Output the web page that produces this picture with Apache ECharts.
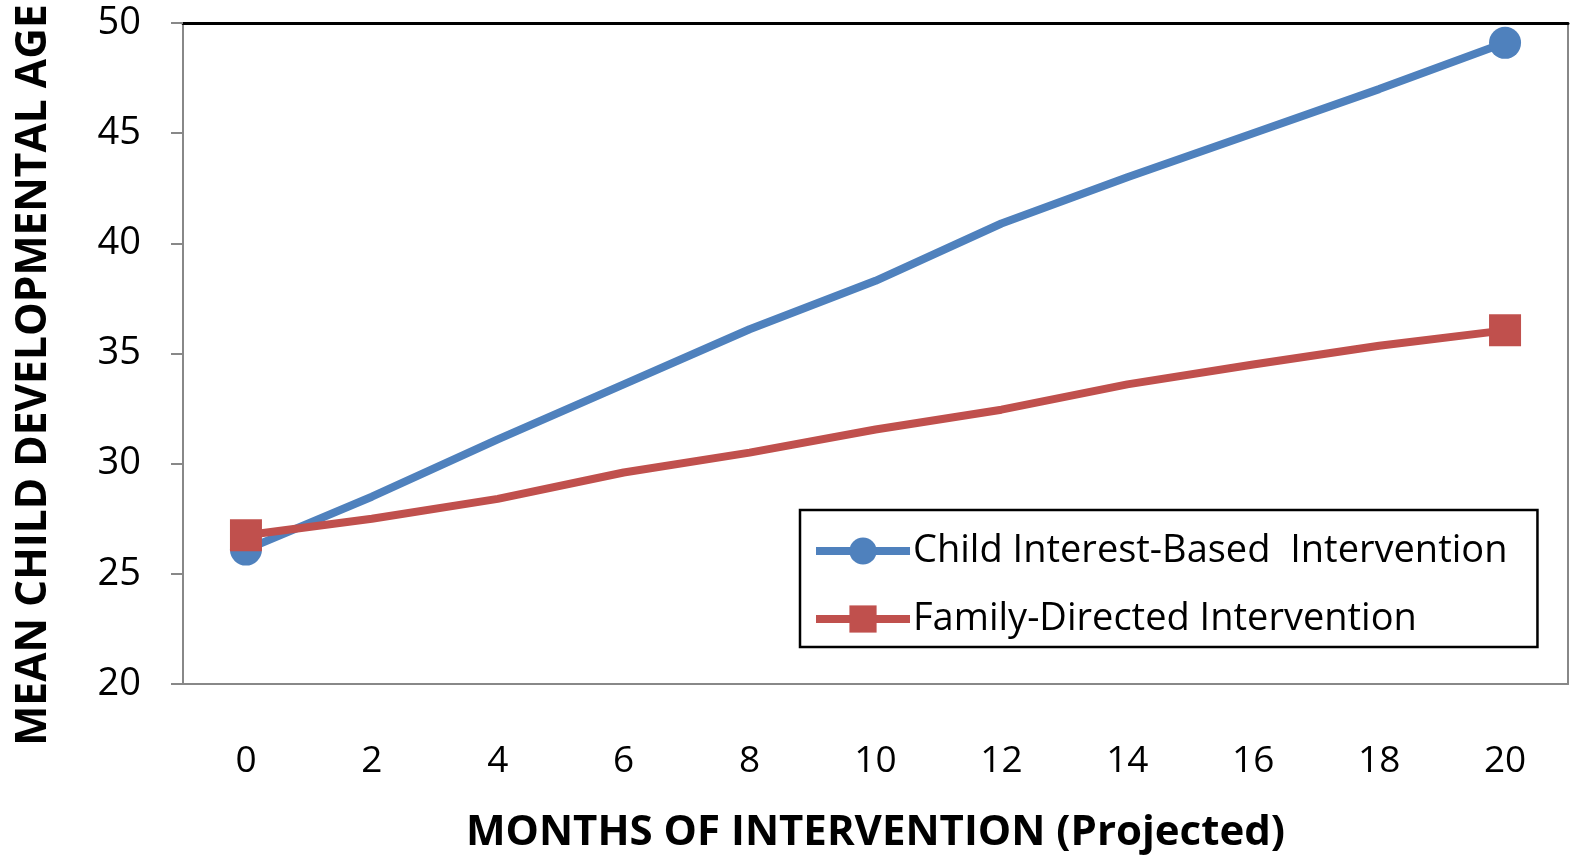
<!DOCTYPE html>
<html>
<head>
<meta charset="utf-8">
<script src="https://cdn.jsdelivr.net/npm/echarts@6/dist/echarts.min.js"></script>
<style>
html,body{margin:0;padding:0;background:#fff;}
#chart{width:1570px;height:856px;}
</style>
</head>
<body>
<div id="chart"></div>
<script>
const months = ['0','2','4','6','8','10','12','14','16','18','20'];
const childInterest = [26.1, 28.5, 31.1, 33.6, 36.1, 38.3, 40.9, 43.0, 45.0, 47.0, 49.1];
const familyDirected = [26.75, 27.5, 28.4, 29.6, 30.5, 31.55, 32.45, 33.6, 34.5, 35.35, 36.05];
const yTicks = {min: 20, max: 50, interval: 5};
const seriesNames = ['Child Interest-Based  Intervention', 'Family-Directed Intervention'];

const chart = echarts.init(document.getElementById('chart'));
const lastIdx = months.length - 1;
const endSymbol = (v, p) => (p.dataIndex === 0 || p.dataIndex === lastIdx) ? 32 : 0;
const font = '"Open Sans", sans-serif';

chart.setOption({
  animation: false,
  backgroundColor: '#fff',
  grid: {left: 183, right: 2, top: 23, bottom: 172, outerBoundsMode: 'none', containLabel: false},
  legend: {
    left: 800, top: 510,
    orient: 'vertical',
    data: seriesNames,
    borderColor: '#000', borderWidth: 2.5,
    padding: [21, 30, 8, 12],
    itemGap: 28,
    itemWidth: 94, itemHeight: 34,
    lineStyle: {width: 8},
    textStyle: {fontFamily: font, fontSize: 38, lineHeight: 40, color: '#000', padding: [0,0,0,-2]}
  },
  xAxis: [{
    type: 'category', data: months, boundaryGap: true,
    axisLine: {lineStyle: {color: '#888', width: 2}},
    axisTick: {length: 12, lineStyle: {color: '#888', width: 2}, interval: 0},
    axisLabel: {fontFamily: font, fontSize: 37, color: '#000', margin: 59, interval: 0},
    name: 'MONTHS OF INTERVENTION (Projected)',
    nameLocation: 'middle', nameGap: 128,
    nameTextStyle: {fontFamily: font, fontSize: 42, fontWeight: 'bold', color: '#000'}
  }, {
    type: 'category', data: months, position: 'top',
    axisLine: {lineStyle: {color: '#000', width: 3}},
    axisTick: {show: false}, axisLabel: {show: false}
  }],
  yAxis: [{
    type: 'value', min: yTicks.min, max: yTicks.max, interval: yTicks.interval,
    axisLine: {show: true, lineStyle: {color: '#888', width: 2}},
    axisTick: {show: true, length: 12, lineStyle: {color: '#888', width: 2}},
    splitLine: {show: false},
    axisLabel: {fontFamily: font, fontSize: 38, color: '#000', margin: 42},
    name: 'MEAN CHILD DEVELOPMENTAL AGE',
    nameLocation: 'middle', nameGap: 128, nameRotate: 90,
    nameTextStyle: {fontFamily: font, fontSize: 42.5, fontWeight: 'bold', color: '#000', padding: [0, 43, 0, 0]}
  }, {
    type: 'value', min: yTicks.min, max: yTicks.max, interval: yTicks.interval, position: 'right',
    axisLine: {show: true, lineStyle: {color: '#888', width: 2}},
    axisTick: {show: false}, axisLabel: {show: false}, splitLine: {show: false}
  }],
  series: [{
    name: seriesNames[0], type: 'line', data: childInterest,
    symbol: 'circle', symbolSize: endSymbol, showAllSymbol: true,
    lineStyle: {color: '#4F81BD', width: 8},
    itemStyle: {color: '#4F81BD'},
    z: 2
  }, {
    name: seriesNames[1], type: 'line', data: familyDirected,
    symbol: 'rect', symbolSize: endSymbol, showAllSymbol: true,
    lineStyle: {color: '#C0504D', width: 8},
    itemStyle: {color: '#C0504D'},
    z: 3
  }]
});
</script>
</body>
</html>
